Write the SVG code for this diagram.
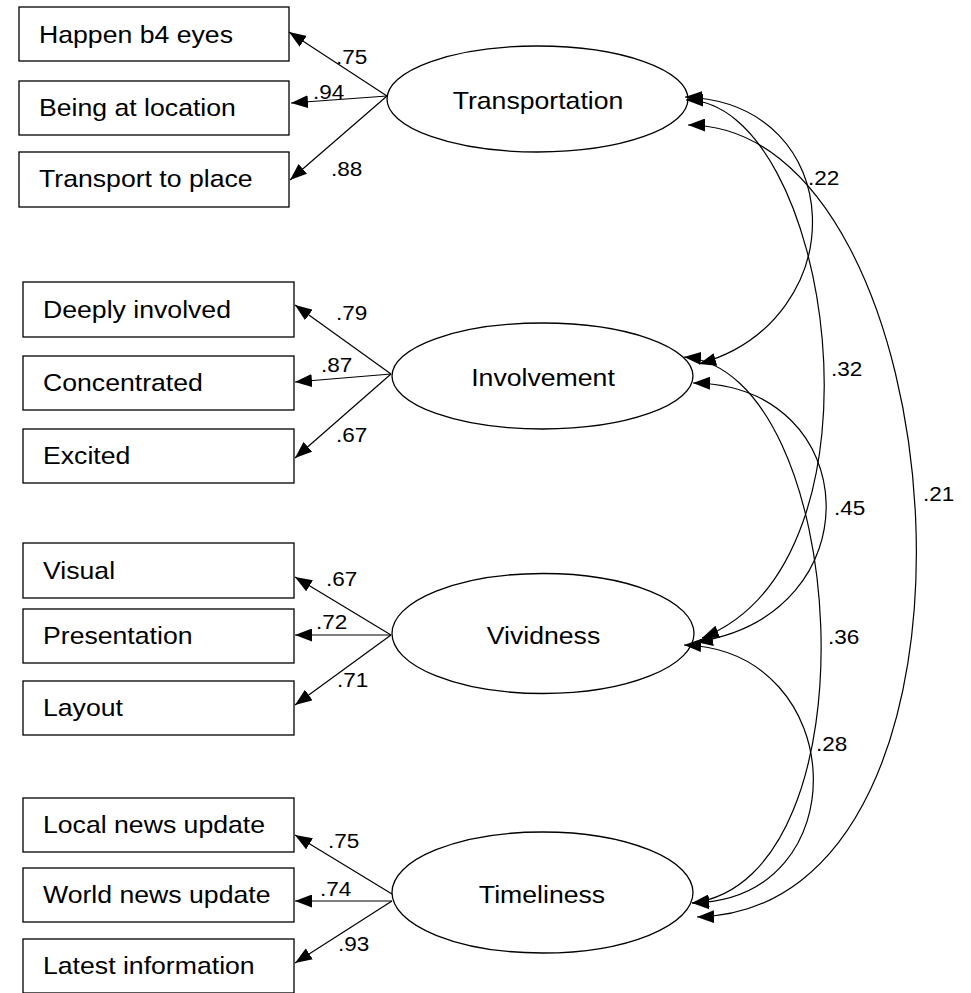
<svg xmlns="http://www.w3.org/2000/svg" width="971" height="993" viewBox="0 0 971 993">
<style>
.box{fill:#fff;stroke:#000;stroke-width:1.3}
.lat{fill:#fff;stroke:#000;stroke-width:1.3}
.t{font-family:"Liberation Sans",Arial,sans-serif;font-size:24px;fill:#000}
.l{font-size:20.5px}
.ld{fill:none;stroke:#000;stroke-width:1.2;marker-end:url(#ah)}
.cv{fill:none;stroke:#000;stroke-width:1.2;marker-start:url(#ah);marker-end:url(#ah)}
</style>
<defs>
<marker id="ah" markerWidth="17" markerHeight="13" refX="17" refY="6.5" orient="auto-start-reverse" markerUnits="userSpaceOnUse"><path d="M0,0 L17,6.5 L0,13 z" fill="#000"/></marker>
</defs>
<rect width="971" height="993" fill="#fff"/>
<g id="happen"><rect class="box" x="19" y="7" width="270" height="54"/><text class="t" transform="translate(39 42.5) scale(1.11 1)">Happen b4 eyes</text></g>
<g id="being"><rect class="box" x="19" y="81" width="270" height="54"/><text class="t" transform="translate(39 116) scale(1.11 1)">Being at location</text></g>
<g id="transport"><rect class="box" x="19" y="152" width="270" height="55"/><text class="t" transform="translate(39 187) scale(1.11 1)">Transport to place</text></g>
<g id="deeply"><rect class="box" x="23" y="282" width="271" height="55"/><text class="t" transform="translate(43 317.5) scale(1.11 1)">Deeply involved</text></g>
<g id="concentrated"><rect class="box" x="23" y="356" width="271" height="54"/><text class="t" transform="translate(43 391) scale(1.11 1)">Concentrated</text></g>
<g id="excited"><rect class="box" x="23" y="429" width="271" height="54"/><text class="t" transform="translate(43 464) scale(1.11 1)">Excited</text></g>
<g id="visual"><rect class="box" x="23" y="543" width="271" height="55"/><text class="t" transform="translate(43 578.5) scale(1.11 1)">Visual</text></g>
<g id="presentation"><rect class="box" x="23" y="609" width="271" height="54"/><text class="t" transform="translate(43 644) scale(1.11 1)">Presentation</text></g>
<g id="layout"><rect class="box" x="23" y="681" width="271" height="54"/><text class="t" transform="translate(43 716) scale(1.11 1)">Layout</text></g>
<g id="local"><rect class="box" x="23" y="798" width="271" height="54"/><text class="t" transform="translate(43 833) scale(1.11 1)">Local news update</text></g>
<g id="world"><rect class="box" x="23" y="868" width="271" height="54"/><text class="t" transform="translate(43 903) scale(1.11 1)">World news update</text></g>
<g id="latest"><rect class="box" x="23" y="939" width="271" height="54"/><text class="t" transform="translate(43 974) scale(1.11 1)">Latest information</text></g>
<g id="transportation"><ellipse class="lat" cx="537.5" cy="99" rx="150.5" ry="53"/><text class="t" text-anchor="middle" transform="translate(538 108.5) scale(1.11 1)">Transportation</text></g>
<g id="involvement"><ellipse class="lat" cx="542.5" cy="376" rx="150.5" ry="53"/><text class="t" text-anchor="middle" transform="translate(543 385.5) scale(1.11 1)">Involvement</text></g>
<g id="vividness"><ellipse class="lat" cx="543" cy="633.5" rx="151" ry="60"/><text class="t" text-anchor="middle" transform="translate(543.5 643.5) scale(1.11 1)">Vividness</text></g>
<g id="timeliness"><ellipse class="lat" cx="542.5" cy="892.5" rx="150.5" ry="60.5"/><text class="t" text-anchor="middle" transform="translate(542 902.5) scale(1.11 1)">Timeliness</text></g>
<g id="connectors">
<path class="ld" d="M387,96 L289,32"/>
<path class="ld" d="M387,96 L291,103"/>
<path class="ld" d="M387,96 L290,180"/>
<path class="ld" d="M391,374 L295,305"/>
<path class="ld" d="M391,374 L295,382"/>
<path class="ld" d="M391,374 L295,458"/>
<path class="ld" d="M391,635 L295,577"/>
<path class="ld" d="M391,635 L295,635"/>
<path class="ld" d="M391,635 L295,705"/>
<path class="ld" d="M392,894 L295,835"/>
<path class="ld" d="M392,901 L295,901"/>
<path class="ld" d="M392,901 L295,963"/>
<path class="cv" d="M685,97 C850,103 855,320 699,364"/>
<path class="cv" d="M686,100 C830,100 900,560 702,638"/>
<path class="cv" d="M688,125 C960,125 1020,910 697,917"/>
<path class="cv" d="M693,383 C865,385 875,615 696,642"/>
<path class="cv" d="M684,357 C850,370 880,880 692,903"/>
<path class="cv" d="M684,645 C850,650 860,900 692,903"/>
</g>
<g id="labels">
<text class="t l" transform="translate(336 64) scale(1.1 1)">.75</text>
<text class="t l" transform="translate(313 99) scale(1.1 1)">.94</text>
<text class="t l" transform="translate(331 176) scale(1.1 1)">.88</text>
<text class="t l" transform="translate(336 320) scale(1.1 1)">.79</text>
<text class="t l" transform="translate(321 372) scale(1.1 1)">.87</text>
<text class="t l" transform="translate(336 442) scale(1.1 1)">.67</text>
<text class="t l" transform="translate(326 586) scale(1.1 1)">.67</text>
<text class="t l" transform="translate(316 629) scale(1.1 1)">.72</text>
<text class="t l" transform="translate(337 687) scale(1.1 1)">.71</text>
<text class="t l" transform="translate(328 848) scale(1.1 1)">.75</text>
<text class="t l" transform="translate(320 896) scale(1.1 1)">.74</text>
<text class="t l" transform="translate(338 951) scale(1.1 1)">.93</text>
<text class="t l" transform="translate(808 185) scale(1.1 1)">.22</text>
<text class="t l" transform="translate(831 376) scale(1.1 1)">.32</text>
<text class="t l" transform="translate(834 515) scale(1.1 1)">.45</text>
<text class="t l" transform="translate(923 501) scale(1.1 1)">.21</text>
<text class="t l" transform="translate(828 644) scale(1.1 1)">.36</text>
<text class="t l" transform="translate(816 751) scale(1.1 1)">.28</text>
</g>
</svg>
